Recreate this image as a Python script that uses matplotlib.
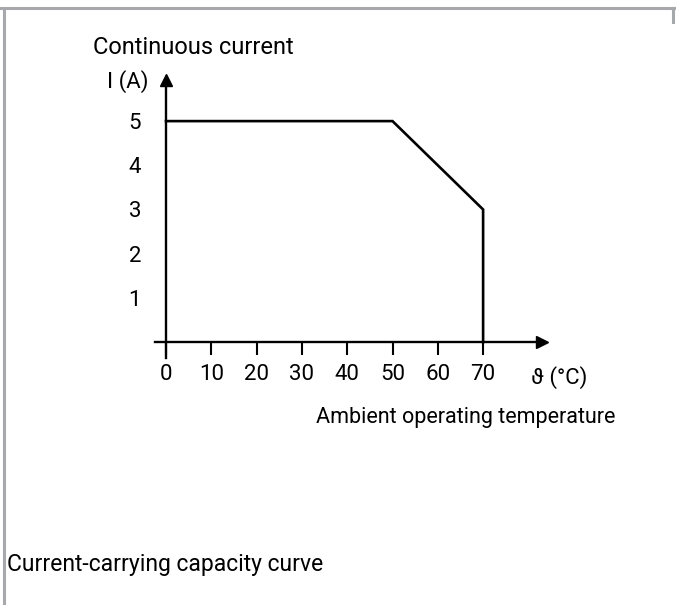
import matplotlib
matplotlib.use("Agg")
import matplotlib.pyplot as plt
from matplotlib.lines import Line2D

plt.rcParams['font.family'] = ['Roboto', 'DejaVu Sans']

# derating curve: continuous current vs ambient temperature
temperature = [0, 50, 70, 70]
current = [5, 5, 3, 0]

x_ticks = [0, 10, 20, 30, 40, 50, 60, 70]
y_ticks = [1, 2, 3, 4, 5]

W, H = 676, 605
fig = plt.figure(figsize=(W / 100, H / 100), dpi=100)

# axes placed so that the data scale matches the reference drawing
ax = fig.add_axes([155 / W, 1 - 358 / H, (542 - 155) / W, (358 - 80) / H])
ax.set_xlim(-2.43, 83.0)
ax.set_ylim(-0.36, 5.93)

ax.plot(temperature, current, color='black', lw=1.9, solid_joinstyle='miter')

for side in ['top', 'right']:
    ax.spines[side].set_visible(False)
ax.spines['left'].set_position(('data', 0))
ax.spines['bottom'].set_position(('data', 0))
ax.spines['left'].set_linewidth(1.7)
ax.spines['bottom'].set_linewidth(1.7)

# arrow heads at the axis ends
ax.plot(1, 0, '>k', ms=8, transform=ax.get_yaxis_transform(), clip_on=False)
ax.plot(0, 1, '^k', ms=8, transform=ax.get_xaxis_transform(), clip_on=False)

ax.set_xticks(x_ticks)
ax.set_xticklabels([str(t) for t in x_ticks])
ax.set_yticks(y_ticks)
ax.set_yticklabels([str(t) for t in y_ticks])
ax.tick_params(axis='x', direction='out', length=9.5, width=1.5, pad=6, labelsize=16)
ax.tick_params(axis='y', length=0, pad=18, labelsize=16)
ax.patch.set_visible(False)

fig.text(93 / W, 1 - 48 / H, 'Continuous current', fontsize=17, ha='left', va='center')
fig.text(128 / W, 1 - 82 / H, 'I (A)', fontsize=16, ha='center', va='center')
fig.text(559 / W, 1 - 378 / H, 'ϑ (°C)', fontsize=16, ha='center', va='center')
fig.text(615 / W, 1 - 417 / H, 'Ambient operating temperature', fontsize=15.5,
         ha='right', va='center')
fig.text(7 / W, 1 - 565 / H, 'Current-carrying capacity curve', fontsize=16.5,
         ha='left', va='center')

# grey frame around the picture
border = '#a6a8ab'
fig.add_artist(Line2D([0, 1], [1 - 8 / H, 1 - 8 / H], color=border, lw=2.2))
fig.add_artist(Line2D([4 / W, 4 / W], [0, 1 - 8 / H], color=border, lw=2.2))
fig.add_artist(Line2D([673 / W, 673 / W], [1 - 8 / H, 1 - 22 / H], color=border, lw=2.2))

fig.savefig('out.png', dpi=100)
